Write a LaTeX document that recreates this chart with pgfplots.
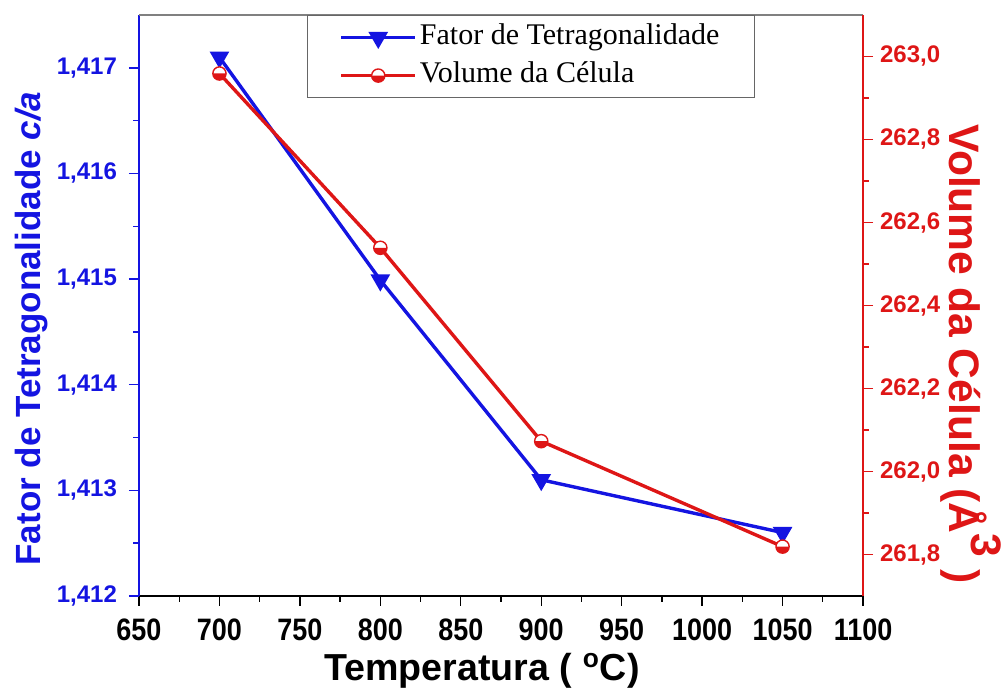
\documentclass[border=0pt]{standalone}
\usepackage{fontspec}
\setmainfont{Liberation Serif}
\setsansfont{Liberation Sans}
\newfontfamily\narrowsans[FakeStretch=0.87]{Liberation Sans}
\usepackage{pgfplots}
\pgfplotsset{compat=1.18}

\definecolor{cblue}{RGB}{20,20,225}
\definecolor{cred}{RGB}{222,22,22}

% circle with white upper half and red lower half
\pgfdeclareplotmark{lowhalf}{%
  \pgfpathcircle{\pgfpointorigin}{\pgfplotmarksize}%
  \pgfsetfillcolor{white}\pgfusepathqfill
  \pgfpathmoveto{\pgfqpoint{-\pgfplotmarksize}{0pt}}%
  \pgfpatharc{180}{360}{\pgfplotmarksize}%
  \pgfpathclose
  \pgfsetfillcolor{cred}\pgfusepathqfill
  \pgfpathcircle{\pgfpointorigin}{\pgfplotmarksize}%
  \pgfusepathqstroke
}

\pgfplotsset{
  common/.style={
    scale only axis, width=362pt, height=290.5pt,
    xmin=650, xmax=1100,
    major tick length=5pt, minor tick length=2.8pt,
    /pgf/number format/assume math mode=true,
    tick label style={font=\sffamily\bfseries\fontsize{12}{14}\selectfont},
    legend image code/.code={
      \draw[mark repeat=2,mark phase=2,##1] plot coordinates {(0cm,0cm)(0.65cm,0cm)(1.3cm,0cm)};
    },
  },
}

\begin{document}
\begin{tikzpicture}
\begin{axis}[common, name=a1,
  axis x line*=bottom, axis y line*=left,
  tick align=outside,
  ymin=1.412, ymax=1.4175,
  xtick={650,700,...,1100}, minor x tick num=1,
  ytick={1.412,1.413,1.414,1.415,1.416,1.417}, minor y tick num=1,
  scaled y ticks=false,
  yticklabel style={cblue, xshift=-2.5pt, /pgf/number format/.cd, fixed, fixed zerofill, precision=3, use comma},
  xticklabel style={font=\narrowsans\bfseries\fontsize{15.5}{17}\selectfont, yshift=-3pt,
    /pgf/number format/.cd, set thousands separator={}},
  x axis line style={black, line width=0.8pt, -},
  y axis line style={cblue, line width=0.8pt, -},
  xtick style={black, line width=0.7pt},
  ytick style={cblue, line width=0.7pt},
  xlabel={Temperatura ( \textsuperscript{o}C)},
  xlabel style={font=\sffamily\bfseries\fontsize{18.8}{20}\selectfont,
    at={(axis description cs:0.4738,-0.1446)}, anchor=base},
  ylabel={Fator de Tetragonalidade \textit{c/a}},
  ylabel style={font=\sffamily\bfseries\fontsize{17.5}{20}\selectfont, cblue,
    at={(axis description cs:-0.1490,0.4604)}, anchor=center, rotate=0},
]
\addplot[cblue, line width=1.7pt, mark=triangle*, mark size=4pt,
  mark options={rotate=180, solid, fill=cblue}]
  coordinates {(700,1.41710) (800,1.41499) (900,1.41310) (1050,1.41260)};
\end{axis}

\begin{axis}[common,
  axis y line*=right, axis x line*=top,
  tick align=outside,
  xtick=\empty,
  x axis line style={gray, line width=0.6pt, -},
  y axis line style={cred, line width=0.8pt, -},
  ymin=261.7, ymax=263.1,
  ytick={261.8,262.0,262.2,262.4,262.6,262.8,263.0}, minor y tick num=1,
  scaled y ticks=false,
  yticklabel style={cred, /pgf/number format/.cd, fixed, fixed zerofill, precision=1, use comma},
  ytick style={cred, line width=0.7pt},
  ylabel={Volume da Célula (Å\raisebox{0.5em}{3} )},
  ylabel style={font=\sffamily\bfseries\fontsize{21.3}{23}\selectfont, cred,
    at={(axis description cs:1.149,0.4165)}, anchor=center, rotate=180},
  legend style={at={(0.232,1)}, anchor=north west, draw=gray!80!black, line width=0.6pt,
    font=\fontsize{15}{18}\selectfont, inner xsep=16pt, inner ysep=3pt, row sep=3pt,
    nodes={inner sep=1.5pt, text height=10pt, text depth=3pt}},
  legend cell align=left,
]
\addlegendimage{cblue, line width=1.7pt, mark=triangle*, mark size=4pt,
  mark options={rotate=180, solid, fill=cblue}}
\addlegendentry{Fator de Tetragonalidade}
\addplot[cred, line width=1.7pt, mark=lowhalf, mark size=3.3pt,
  mark options={solid, draw=cred, line width=0.7pt}]
  coordinates {(700,262.959) (800,262.539) (900,262.073) (1050,261.819)};
\addlegendentry{Volume da Célula}
\end{axis}

\pgfresetboundingbox
\path ([shift={(-69.5pt,-47.5pt)}]a1.south west) rectangle ([shift={(71pt,7.5pt)}]a1.north east);
\end{tikzpicture}
\end{document}
